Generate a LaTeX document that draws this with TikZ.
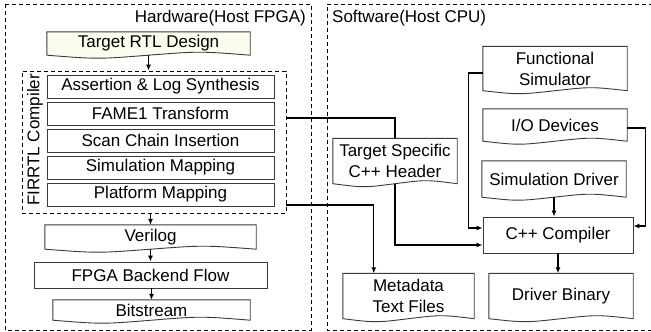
\documentclass[tikz,border=0pt]{standalone}
\usepackage{fontspec}
\setmainfont{Liberation Sans}
\usetikzlibrary{calc,arrows.meta,backgrounds}
\definecolor{cream}{HTML}{FCFCEE}
\definecolor{boxgray}{HTML}{3A3A3A}
\tikzset{
  boxline/.style={draw=boxgray,line width=0.9pt},
  frame/.style={draw=black,line width=0.8pt,dash pattern=on 4pt off 3pt},
  plain/.style={rectangle,boxline,inner sep=0pt,align=center},
  docbox/.style={rectangle,draw=none,inner sep=0pt,align=center},
  conn/.style={draw=black,line width=1.2pt},
  arr/.style={conn,-{Latex[length=6pt,width=5pt]}},
  lbl/.style={inner sep=0pt}
}
\newcommand{\docout}[3][white]{%
  \begin{scope}[on background layer]
  \draw[boxline,fill=#1] (#2.south west) -- (#2.north west) -- (#2.north east) -- (#2.south east)
   .. controls ($(#2.south)!0.5!(#2.south east)+(0,-#3)$) .. (#2.south)
   .. controls ($(#2.south)!0.5!(#2.south west)+(0,#3)$) .. (#2.south west) -- cycle;
  \end{scope}}
\begin{document}
\begin{tikzpicture}[x=1pt,y=-1pt,font=\fontsize{17}{21}\selectfont]
\useasboundingbox (0,0) rectangle (651,332);
% frames
\draw[frame] (5,4) rectangle (311,330);
\draw[frame] (653,4) -- (327,4) -- (327,330) -- (653,330);
\node[lbl,anchor=east] (hwlbl) at (306,18) {Hardware(Host FPGA)};
\node[lbl,anchor=west] (swlbl) at (332,18) {Software(Host CPU)};
% hardware
\node[docbox,minimum width=203pt,minimum height=23pt] (trtl) at (148.5,43.5) {Target RTL Design};
\docout[cream]{trtl}{4}
\node[rectangle,frame,minimum width=264pt,minimum height=142pt] (fir) at (154,142) {};
\node[lbl,rotate=90] (firlbl) at (35,140) {FIRRTL Compiler};
\node[plain,minimum width=227pt,minimum height=23pt] (asrt) at (160.5,86.5) {Assertion \& Log Synthesis};
\node[plain,minimum width=227pt,minimum height=23pt] (fame) at (160.5,113.5) {FAME1 Transform};
\node[plain,minimum width=227pt,minimum height=23pt] (scan) at (160.5,140.5) {Scan Chain Insertion};
\node[plain,minimum width=227pt,minimum height=23pt] (smap) at (160.5,167.5) {Simulation Mapping};
\node[plain,minimum width=227pt,minimum height=23pt] (plat) at (160.5,194.5) {Platform Mapping};
\node[docbox,minimum width=211pt,minimum height=24pt] (ver) at (150.5,237) {Verilog};
\docout{ver}{4}
\node[plain,minimum width=233pt,minimum height=26pt] (fpga) at (150.5,275) {FPGA Backend Flow};
\node[docbox,minimum width=197pt,minimum height=20pt] (bits) at (151.5,310) {Bitstream};
\docout{bits}{4}
% software
\node[docbox,minimum width=124pt,minimum height=45pt] (tsh) at (395,161) {Target Specific\\C++ Header};
\docout{tsh}{4}
\node[docbox,minimum width=131pt,minimum height=45pt] (meta) at (408.5,296) {Metadata\\Text Files};
\docout{meta}{4}
\node[docbox,minimum width=144pt,minimum height=44pt] (fsim) at (555,68.5) {Functional\\Simulator};
\docout{fsim}{4}
\node[docbox,minimum width=144pt,minimum height=32pt] (iod) at (555,125) {I/O Devices};
\docout{iod}{4}
\node[docbox,minimum width=144pt,minimum height=36pt] (sdrv) at (554,179) {Simulation Driver};
\docout{sdrv}{4}
\node[plain,minimum width=150pt,minimum height=36pt] (cpp) at (558,235) {C++ Compiler};
\node[docbox,minimum width=144pt,minimum height=45pt] (dbin) at (561,296) {Driver Binary};
\docout{dbin}{4}
% connectors
\draw[arr] (trtl.south) -- (trtl.south |- fir.north);
\draw[arr] (fir.south -| ver) -- (ver.north);
\draw[arr] (ver.south) -- (fpga.north);
\draw[arr] (fpga.south -| bits) -- (bits.north);
\coordinate (fameout) at ($(fir.east |- fame.east)+(0,4.5)$);
\draw[conn] (fameout) -| (tsh.north);
\coordinate (platout) at ($(fir.east |- plat.east)+(0,10.5)$);
\coordinate (metain) at ($(meta.north west)+(31,0)$);
\draw[arr] (platout) -| (metain);
\coordinate (cppin1) at ($(cpp.west)+(0,10)$);
\draw[arr] (tsh.south) |- (cppin1);
\coordinate (fsout) at ($(fsim.west)+(0,4.5)$);
\coordinate (cppin2) at ($(cpp.west)+(0,-7)$);
\draw[arr] (fsout) -- ++(-14,0) |- (cppin2);
\coordinate (ioout) at ($(iod.east)+(0,3)$);
\coordinate (cppin3) at ($(cpp.east)+(0,-9)$);
\draw[arr] (ioout) -- ++(18,0) |- (cppin3);
\draw[arr] (sdrv.south) -- (sdrv.south |- cpp.north);
\draw[arr] (cpp.south) -- (cpp.south |- dbin.north);
\end{tikzpicture}
\end{document}
